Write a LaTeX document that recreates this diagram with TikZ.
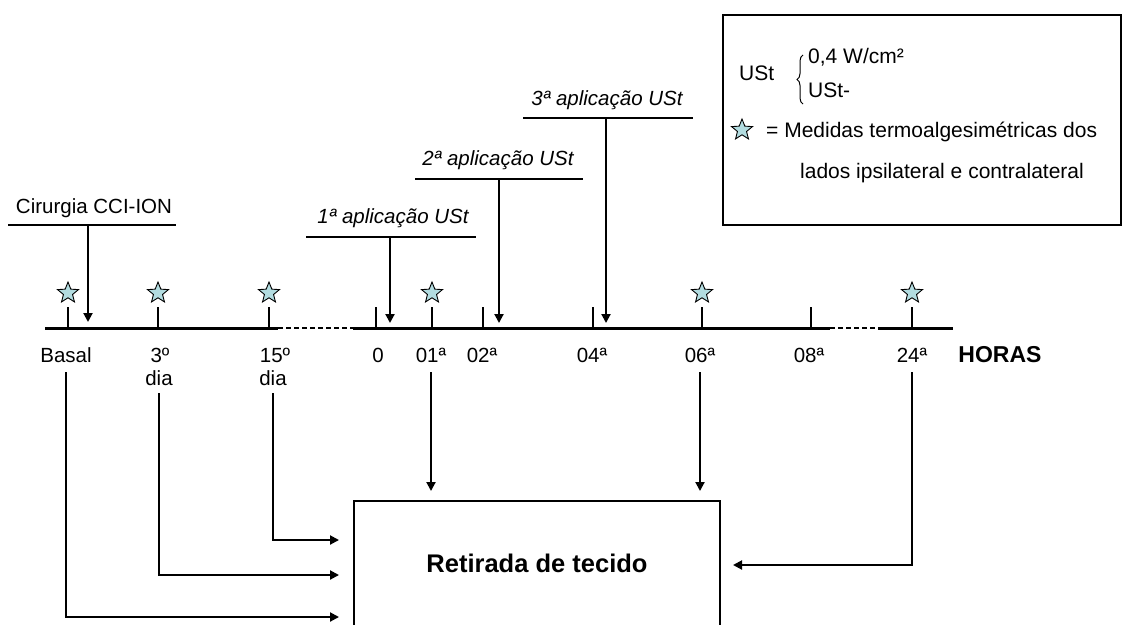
\documentclass[tikz,border=0pt]{standalone}
\usepackage{fontspec}
\setmainfont{Liberation Sans}
\usetikzlibrary{arrows.meta,shapes.geometric,decorations.pathreplacing,calc}
\definecolor{starblue}{RGB}{178,220,224}
\begin{document}
\begin{tikzpicture}[x=1pt,y=-1pt,
  txt/.style={inner sep=0pt, font=\fontsize{20.5}{24}\selectfont},
  ltxt/.style={inner sep=0pt, font=\fontsize{21}{24}\selectfont},
  itxt/.style={inner sep=0pt, font=\fontsize{20.5}{24}\selectfont\itshape},
  btxt/.style={inner sep=0pt, font=\fontsize{23}{26}\selectfont\bfseries},
  axis/.style={line width=3pt},
  dashaxis/.style={line width=2pt, dash pattern=on 5pt off 3pt},
  tickmark/.style={line width=2.5pt},
  arr/.style={line width=2pt, -{Triangle[length=9pt,width=9pt]}},
  bar/.style={line width=2pt},
  mstar/.style={star, star points=5, star point ratio=2.3, draw=black, fill=starblue, line width=0.9pt, minimum size=22pt, inner sep=0pt},
]
\useasboundingbox (0,0) rectangle (1123,624);

% legend
\draw[line width=2.5pt] (723,15) rectangle (1121,225);
\node[ltxt, anchor=base west] (ust) at (739,80) {USt};
\draw[decorate, decoration={brace, amplitude=6pt}, line width=1pt] (803,104) -- (803,55);
\node[ltxt, anchor=base west] (wcm) at (808,63) {0,4 W/cm²};
\node[ltxt, anchor=base west] (ustm) at (808,97) {USt-};
\node[mstar] (lstar) at (742,130) {};
\node[ltxt, anchor=base west] (med) at (766,137) {= Medidas termoalgesimétricas dos};
\node[ltxt, anchor=base west] (lad) at (800,178) {lados ipsilateral e contralateral};

% timeline
\draw[axis] (45,328) -- (278,328);
\draw[dashaxis] (278,328) -- (353,328);
\draw[axis] (353,328) -- (830,328);
\draw[dashaxis] (830,328) -- (878,328);
\draw[axis] (878,328) -- (953,328);
\foreach \x in {68,158,269,376,432,483,593,702,811,912}
  \draw[tickmark] (\x,307) -- (\x,328);
\foreach \x/\n in {68/s1,158/s2,269/s3,432/s4,702/s5,912/s6}
  \node[mstar] (\n) at (\x,293) {};

% labels under the timeline
\node[txt, anchor=base] (basal) at (66,362) {Basal};
\node[txt, anchor=base] (d3) at (160,362) {3º};
\node[txt, anchor=base] (d3b) at (159,385) {dia};
\node[txt, anchor=base] (d15) at (275,362) {15º};
\node[txt, anchor=base] (d15b) at (273,385) {dia};
\node[txt, anchor=base] (h0) at (378,362) {0};
\node[txt, anchor=base] (h1) at (431,362) {01ª};
\node[txt, anchor=base] (h2) at (482,362) {02ª};
\node[txt, anchor=base] (h4) at (592,362) {04ª};
\node[txt, anchor=base] (h6) at (700,362) {06ª};
\node[txt, anchor=base] (h8) at (809,362) {08ª};
\node[txt, anchor=base] (h24) at (912,362) {24ª};
\node[btxt, anchor=base] (horas) at (1000,362) {HORAS};

% events above the timeline
\node[txt, anchor=base] (cir) at (94,213) {Cirurgia CCI-ION};
\draw[bar] (8,225) -- (176,225);
\coordinate (cirA) at (88,225);
\coordinate (cirB) at (88,322);
\draw[arr] (cirA) -- (cirB);

\node[itxt, anchor=base] (ap1) at (393,223) {1ª aplicação USt};
\draw[bar] (306,237) -- (476,237);
\coordinate (ap1A) at (390,237);
\coordinate (ap1B) at (390,323);
\draw[arr] (ap1A) -- (ap1B);

\node[itxt, anchor=base] (ap2) at (498,165) {2ª aplicação USt};
\draw[bar] (415,179) -- (583,179);
\coordinate (ap2A) at (499,179);
\coordinate (ap2B) at (499,323);
\draw[arr] (ap2A) -- (ap2B);

\node[itxt, anchor=base] (ap3) at (607,105) {3ª aplicação USt};
\draw[bar] (523,118) -- (693,118);
\coordinate (ap3A) at (606,118);
\coordinate (ap3B) at (606,323);
\draw[arr] (ap3A) -- (ap3B);

% tissue removal box
\node[draw, line width=2pt, minimum width=366pt, minimum height=200pt, anchor=north west, inner sep=0pt] (box) at (353,500) {};
\node[inner sep=0pt, font=\fontsize{25.5}{28}\selectfont\bfseries] (ret) at (537,563) {Retirada de tecido};

\draw[arr, shorten <=10pt, shorten >=14pt] (basal.south) |- (box.west |- 0,617);
\draw[arr, shorten <=8pt, shorten >=14pt] (d3b.south) |- (box.west |- 0,575);
\draw[arr, shorten <=8pt, shorten >=14pt] (d15b.south) |- (box.west |- 0,540);
\draw[arr, shorten <=10pt, shorten >=9pt] (h1.south) -- (h1.south |- box.north);
\draw[arr, shorten <=10pt, shorten >=9pt] (h6.south) -- (h6.south |- box.north);
\draw[arr, shorten <=10pt, shorten >=12pt] (h24.south) |- (box.east |- 0,565);
\end{tikzpicture}
\end{document}
